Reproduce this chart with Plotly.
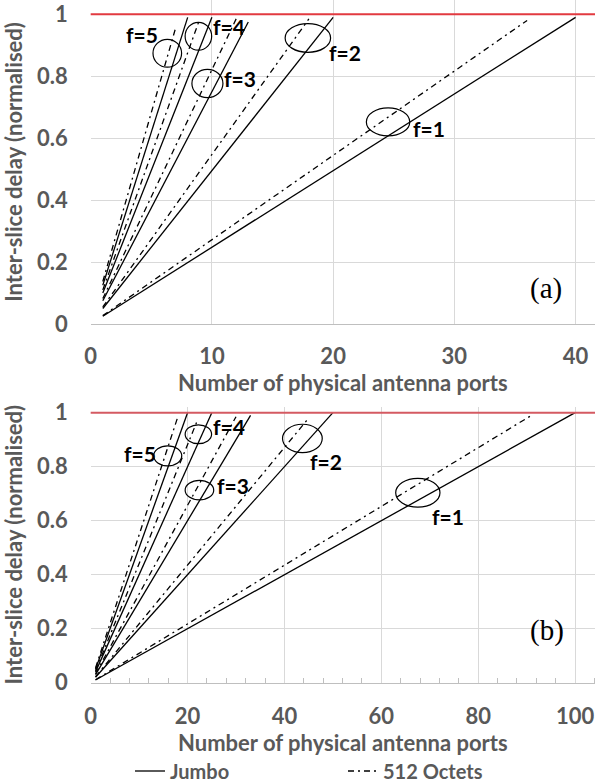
import plotly.graph_objects as go

# ---------------- data ----------------
f_labels = ["f=1", "f=2", "f=3", "f=4", "f=5"]

# panel (a)
a_jumbo_ports = [[1, 40], [1, 20], [1, 13], [1, 10], [1, 8]]
a_jumbo_delay = [[0.025, 0.99], [0.05, 0.99], [0.075, 0.975], [0.10, 0.99], [0.125, 0.99]]
a_octet_ports = [[1, 36], [1, 18], [1, 12], [1, 9], [1, 7]]
a_octet_delay = [[0.027, 0.98], [0.055, 0.985], [0.082, 0.985], [0.11, 0.985], [0.137, 0.955]]

# panel (b)
b_jumbo_ports = [[1, 100], [1, 50], [1, 33], [1, 25], [1, 20]]
b_jumbo_delay = [[0.01, 1.0], [0.02, 1.0], [0.03, 0.99], [0.04, 1.0], [0.05, 1.0]]
b_octet_ports = [[1, 91], [1, 45], [1, 30], [1, 22], [1, 18]]
b_octet_delay = [[0.011, 0.99], [0.022, 0.98], [0.033, 0.985], [0.044, 0.97], [0.055, 0.985]]

limit_delay = 1.0

# annotation ellipses (x0, x1, y0, y1) and label positions
a_ellipses = [(22.74, 26.32, 0.607, 0.698), (16.04, 19.79, 0.877, 0.970),
              (8.35, 10.91, 0.731, 0.822), (7.79, 9.98, 0.884, 0.974),
              (5.14, 7.50, 0.829, 0.919)]
a_label_pos = [(27.9, 0.631), (20.95, 0.875), (12.35, 0.793), (11.45, 0.96), (4.23, 0.935)]
b_ellipses = [(62.96, 72.1, 0.650, 0.757), (39.6, 47.8, 0.852, 0.957),
              (19.5, 25.4, 0.677, 0.749), (19.5, 24.96, 0.885, 0.955),
              (13.0, 18.8, 0.803, 0.877)]
b_label_pos = [(73.7, 0.617), (48.5, 0.819), (29.4, 0.732), (28.6, 0.948), (10.1, 0.850)]

# ---------------- styling ----------------
GRAY = "#595959"
GRID = "#d9d9d9"
FONT = "Lato"
DASHDOT = "6px,4px,2px,4px"

fig = go.Figure()

def add_panel(xa, ya, jp, jd, op, od, first):
    for i in range(len(jp)):
        fig.add_trace(go.Scatter(
            x=jp[i], y=jd[i], mode="lines", xaxis=xa, yaxis=ya,
            line=dict(color="black", width=1.3),
            name="Jumbo", legend="legend",
            showlegend=(first and i == 0)))
        fig.add_trace(go.Scatter(
            x=op[i], y=od[i], mode="lines", xaxis=xa, yaxis=ya,
            line=dict(color="black", width=1.3, dash=DASHDOT),
            name="512 Octets", legend="legend2",
            showlegend=(first and i == 0)))

add_panel("x", "y", a_jumbo_ports, a_jumbo_delay, a_octet_ports, a_octet_delay, True)
add_panel("x2", "y2", b_jumbo_ports, b_jumbo_delay, b_octet_ports, b_octet_delay, False)

# red limit lines
fig.add_shape(type="line", xref="x domain", yref="y", x0=0, x1=1,
              y0=limit_delay, y1=limit_delay, line=dict(color="#e23a40", width=2))
fig.add_shape(type="line", xref="x2 domain", yref="y2", x0=0, x1=1,
              y0=limit_delay, y1=limit_delay, line=dict(color="#d45a62", width=2))

for (x0, x1, y0, y1) in a_ellipses:
    fig.add_shape(type="circle", xref="x", yref="y", x0=x0, x1=x1, y0=y0, y1=y1,
                  line=dict(color="black", width=1.2))
for (x0, x1, y0, y1) in b_ellipses:
    fig.add_shape(type="circle", xref="x2", yref="y2", x0=x0, x1=x1, y0=y0, y1=y1,
                  line=dict(color="black", width=1.2))

lab_font = dict(family=FONT, size=21, color="black", weight="bold")
for lab, (x, y) in zip(f_labels, a_label_pos):
    fig.add_annotation(x=x, y=y, xref="x", yref="y", text=lab, showarrow=False, font=lab_font)
for lab, (x, y) in zip(f_labels, b_label_pos):
    fig.add_annotation(x=x, y=y, xref="x2", yref="y2", text=lab, showarrow=False, font=lab_font)

panel_font = dict(family="Liberation Serif", size=29, color="black")
fig.add_annotation(x=37.55, y=0.113, xref="x", yref="y", text="(a)", showarrow=False, font=panel_font)
fig.add_annotation(x=94.2, y=0.195, xref="x2", yref="y2", text="(b)", showarrow=False, font=panel_font)

tick_font = dict(family=FONT, size=22, color=GRAY, weight="bold")
title_font = dict(family=FONT, size=22, color=GRAY, weight="bold")

common_x = dict(showgrid=True, gridcolor=GRID, gridwidth=1, zeroline=False,
                showline=True, linecolor="#bfbfbf", linewidth=1.2,
                tickfont=tick_font, ticks="", automargin=False,
                ticklabeloverflow="allow")
common_y = dict(showgrid=True, gridcolor=GRID, gridwidth=1, zeroline=False,
                showline=False, tickfont=tick_font, dtick=0.2, tick0=0,
                ticklabelstandoff=22, automargin=False, ticklabeloverflow="allow")

fig.update_layout(
    width=595, height=782,
    margin=dict(l=0, r=0, t=0, b=0, autoexpand=False),
    paper_bgcolor="white", plot_bgcolor="white",
    xaxis=dict(domain=[0.1524, 1.0], range=[0, 41.6], dtick=10, anchor="y",
               ticklabelstandoff=13,
               title=dict(text="Number of physical antenna ports", font=title_font, standoff=0),
               **common_x),
    yaxis=dict(domain=[0.5857, 1.0], range=[0, 1.046], anchor="x",
               title=dict(text="Inter-slice delay (normalised)", font=title_font, standoff=11),
               **common_y),
    xaxis2=dict(domain=[0.1524, 1.0], range=[0, 104.1], dtick=20, anchor="y2",
                ticklabelstandoff=14,
                title=dict(text="Number of physical antenna ports", font=title_font, standoff=0),
                minor=dict(dtick=4, ticks="inside", ticklen=5, tickcolor="#bfbfbf", showgrid=False),
                **common_x),
    yaxis2=dict(domain=[0.1270, 0.4799], range=[0, 1.022], anchor="x2",
                title=dict(text="Inter-slice delay (normalised)", font=title_font, standoff=11),
                **common_y),
    legend=dict(x=130 / 595, y=1 - 771 / 782, xanchor="left", yanchor="middle",
                orientation="h", font=dict(family=FONT, size=20, color=GRAY, weight="bold"),
                bgcolor="rgba(0,0,0,0)", borderwidth=0),
    legend2=dict(x=343 / 595, y=1 - 771 / 782, xanchor="left", yanchor="middle",
                 orientation="h", font=dict(family=FONT, size=20, color=GRAY, weight="bold"),
                 bgcolor="rgba(0,0,0,0)", borderwidth=0),
)

fig.write_html("out.html")
